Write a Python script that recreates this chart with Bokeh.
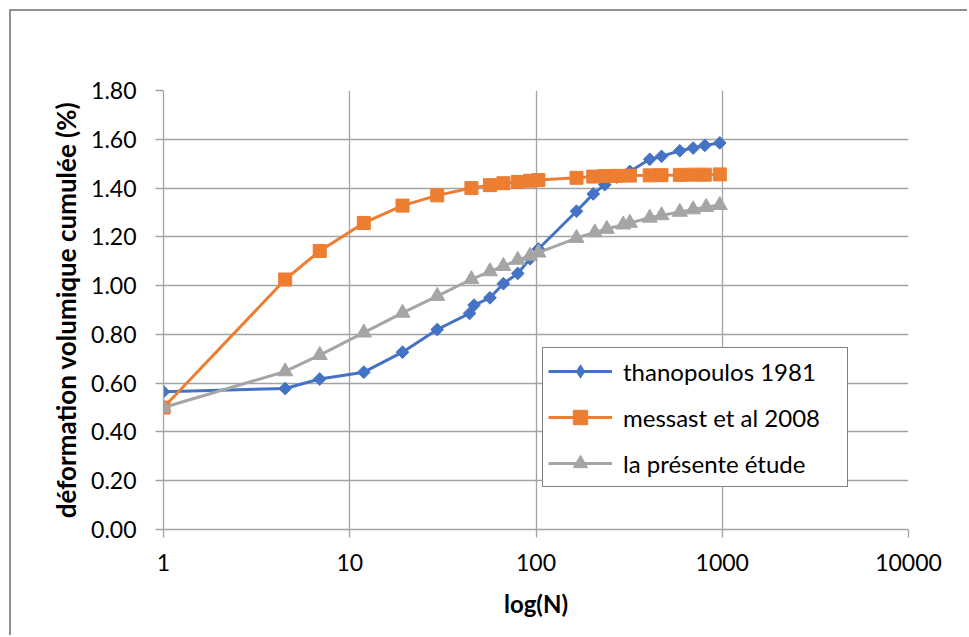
from bokeh.plotting import figure
from bokeh.models import Range1d, FixedTicker, NumeralTickFormatter, Legend, LegendItem
from bokeh.embed import file_html
from bokeh.resources import INLINE
import numpy as np

# ---- data ----
n_thanopoulos = [1, 4.5, 6.9, 11.9, 19.2, 29.5, 44, 46.5, 56.6, 66.8, 79.8, 92.9, 103,
                 165, 203, 234, 271, 319, 408, 472, 592, 698, 806, 970]
eps_thanopoulos = [0.565, 0.578, 0.617, 0.645, 0.727, 0.82, 0.886, 0.92, 0.95, 1.008, 1.05, 1.11, 1.15,
                   1.305, 1.376, 1.414, 1.445, 1.468, 1.518, 1.53, 1.553, 1.564, 1.575, 1.585]

n_messast = [1, 4.5, 6.9, 11.9, 19.2, 29.5, 45, 56.6, 66.8, 79.8, 92.9, 103,
             165, 203, 234, 271, 319, 408, 472, 592, 698, 806, 970]
eps_messast = [0.50, 1.025, 1.142, 1.257, 1.328, 1.37, 1.40, 1.412, 1.42, 1.425, 1.43, 1.433,
               1.442, 1.447, 1.449, 1.45, 1.451, 1.452, 1.453, 1.454, 1.455, 1.455, 1.456]

n_etude = [1, 4.5, 6.9, 11.9, 19.2, 29.5, 45, 56.6, 66.8, 79.8, 92.9, 103,
           165, 207, 240, 294, 319, 408, 472, 592, 698, 820, 970]
eps_etude = [0.50, 0.648, 0.715, 0.807, 0.888, 0.957, 1.026, 1.058, 1.08, 1.105, 1.122, 1.135,
             1.195, 1.218, 1.232, 1.25, 1.257, 1.278, 1.288, 1.302, 1.312, 1.322, 1.33]

series_names = ["thanopoulos 1981", "messast et al 2008", "la présente étude"]
x_tick_values = [1, 10, 100, 1000, 10000]
x_tick_labels = ["1", "10", "100", "1000", "10000"]
y_tick_values = [0.0, 0.2, 0.4, 0.6, 0.8, 1.0, 1.2, 1.4, 1.6, 1.8]
x_title = "log(N)"
y_title = "déformation volumique cumulée (%)"

# ---- styling ----
FONT = "Lato"
GRID = "#a3a3a3"
BLUE, ORANGE, GREY = "#4472C4", "#ED7D31", "#A5A5A5"

p = figure(width=958, height=626, x_axis_type="log",
           x_range=Range1d(1, 10000), y_range=Range1d(0, 1.8),
           output_backend="svg", toolbar_location=None,
           min_border_left=152, min_border_right=61,
           min_border_top=79, min_border_bottom=108)
p.styles = {"border-left": "2px solid #8f8f8f", "border-top": "2px solid #8f8f8f",
            "margin-left": "9px", "margin-top": "9px"}
p.outline_line_color = None
p.background_fill_color = "white"
p.border_fill_color = "white"

# axes
for ax in (p.xaxis[0], p.yaxis[0]):
    ax.axis_line_color = GRID
    ax.axis_line_width = 1.3
    ax.major_tick_line_color = GRID
    ax.major_tick_line_width = 1.3
    ax.major_tick_out = 8
    ax.major_tick_in = 0
    ax.minor_tick_line_color = None
    ax.major_label_text_font = FONT
    ax.major_label_text_font_size = "23px"
    ax.major_label_text_color = "black"
    ax.axis_label_text_font = FONT
    ax.axis_label_text_font_style = "bold"
    ax.axis_label_text_color = "black"

p.xaxis.ticker = FixedTicker(ticks=x_tick_values)
p.xaxis.major_label_overrides = {v: s for v, s in zip(x_tick_values, x_tick_labels)}
p.xaxis.major_label_standoff = 16
p.xaxis.axis_label = x_title
p.xaxis.axis_label_text_font_size = "24px"
p.xaxis.axis_label_standoff = 15

p.yaxis.ticker = FixedTicker(ticks=y_tick_values)
p.yaxis.formatter = NumeralTickFormatter(format="0.00")
p.yaxis.major_label_standoff = 19
p.yaxis.axis_label = y_title
p.yaxis.axis_label_text_font_size = "26px"
p.yaxis.axis_label_standoff = 6

p.xgrid.ticker = FixedTicker(ticks=x_tick_values)
p.ygrid.ticker = FixedTicker(ticks=y_tick_values)
p.xgrid.grid_line_color = GRID
p.ygrid.grid_line_color = GRID
p.xgrid.grid_line_width = 1.3
p.ygrid.grid_line_width = 1.3

# series
l1 = p.line(n_thanopoulos, eps_thanopoulos, color=BLUE, line_width=3)
# diamond key used by the legend; sits hidden under the rotated-square markers
k1 = p.scatter(n_thanopoulos, eps_thanopoulos, marker="diamond", size=9,
               fill_color=BLUE, line_color=None)
p.scatter(n_thanopoulos, eps_thanopoulos, marker="square", size=9, angle=np.pi / 4,
          fill_color=BLUE, line_color=BLUE)
l2 = p.line(n_messast, eps_messast, color=ORANGE, line_width=3)
m2 = p.scatter(n_messast, eps_messast, marker="square", size=13,
               fill_color=ORANGE, line_color=ORANGE)
l3 = p.line(n_etude, eps_etude, color=GREY, line_width=3)
m3 = p.scatter(n_etude, eps_etude, marker="triangle", size=15,
               fill_color=GREY, line_color=GREY)

legend = Legend(items=[LegendItem(label=series_names[0], renderers=[l1, k1]),
                       LegendItem(label=series_names[1], renderers=[l2, m2]),
                       LegendItem(label=series_names[2], renderers=[l3, m3])],
                location=(379, 42))
legend.border_line_color = "black"
legend.border_line_width = 1.5
legend.background_fill_color = "white"
legend.background_fill_alpha = 1
legend.label_text_font = FONT
legend.label_text_font_size = "24px"
legend.label_text_color = "black"
legend.glyph_width = 64
legend.glyph_height = 36
legend.label_height = 36
legend.label_width = 219
legend.label_standoff = 11
legend.spacing = 10
legend.padding = 5
legend.margin = 0
p.add_layout(legend)

open("out.html", "w").write(file_html(p, INLINE))
